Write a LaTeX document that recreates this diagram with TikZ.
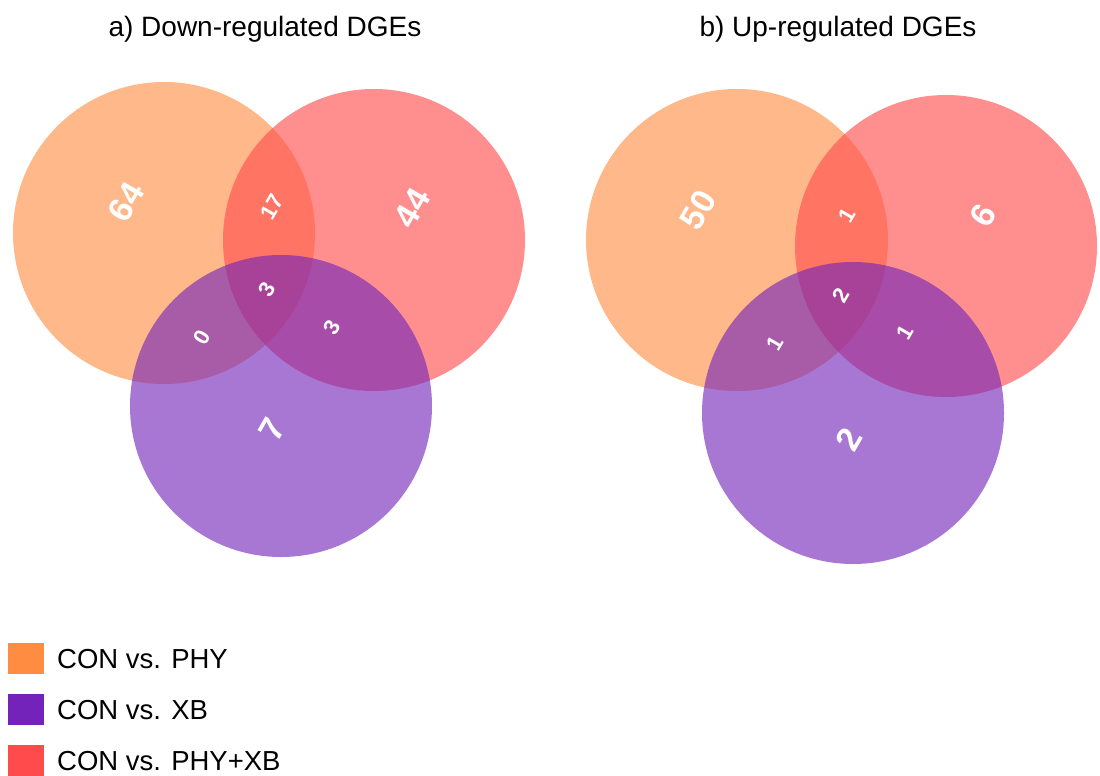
\documentclass[tikz,border=0pt]{standalone}
\usepackage{fontspec}
\setmainfont{Liberation Sans}
\definecolor{vdorange}{RGB}{255,140,65}
\definecolor{vdpurple}{RGB}{115,35,185}
\definecolor{vdred}{RGB}{255,75,75}

\begin{document}
\begin{tikzpicture}[x=1pt,y=-1pt,
  set/.style={circle,minimum size=302pt,inner sep=0pt,fill opacity=.62,draw=none},
  physet/.style={set,fill=vdorange},
  xbset/.style={set,fill=vdpurple},
  bothset/.style={set,fill=vdred},
  big/.style={text=white,font=\fontsize{34}{34}\selectfont\bfseries,rotate=60,inner sep=0pt},
  small/.style={big,font=\fontsize{22}{22}\selectfont\bfseries},
  title/.style={font=\fontsize{28}{34}\selectfont,anchor=base,inner sep=0pt},
  key/.style={minimum width=36pt,minimum height=31pt,inner sep=0pt,anchor=north west},
  keytext/.style={font=\fontsize{27.5}{33}\selectfont,anchor=base west,inner sep=0pt}
]
\useasboundingbox (0,0) rectangle (1100,776);

% a) down-regulated
\node[title] (ta) at (265,37) {a) Down-regulated DGEs};
\node[physet] (aphy) at (164,233) {};
\node[bothset] (aboth) at (374,240) {};
\node[xbset] (axb) at (281,406) {};

\node[big] (a64) at (126,202) {64};
\node[small] (a17) at (272,207) {17};
\node[big] (a44) at (412,208) {44};
\node[small] (a3c) at (267,289) {3};
\node[small] (a0) at (202,337) {0};
\node[small] (a3r) at (332,327) {3};
\node[big] (a7) at (272,429) {7};

% b) up-regulated
\node[title] (tb) at (838,37) {b) Up-regulated DGEs};
\node[physet] (bphy) at (737,240) {};
\node[bothset] (bboth) at (946,246) {};
\node[xbset] (bxb) at (853,413) {};

\node[big] (b50) at (698,210) {50};
\node[small] (b1t) at (847,215) {1};
\node[big] (b6) at (983,215) {6};
\node[small] (b2c) at (841,295) {2};
\node[small] (b1l) at (775,343) {1};
\node[small] (b1r) at (905,332) {1};
\node[big] (b2) at (849,439) {2};

% legend
\node[key,fill=vdorange] (kphy) at (8,643) {};
\node[key,fill=vdpurple] (kxb) at (8,694) {};
\node[key,fill=vdred] (kboth) at (8,745) {};
\node[keytext] (lphy) at (57,668) {CON vs. PHY};
\node[keytext] (lxb) at (57,719) {CON vs. XB};
\node[keytext] (lboth) at (57,770) {CON vs. PHY+XB};
\end{tikzpicture}
\end{document}
